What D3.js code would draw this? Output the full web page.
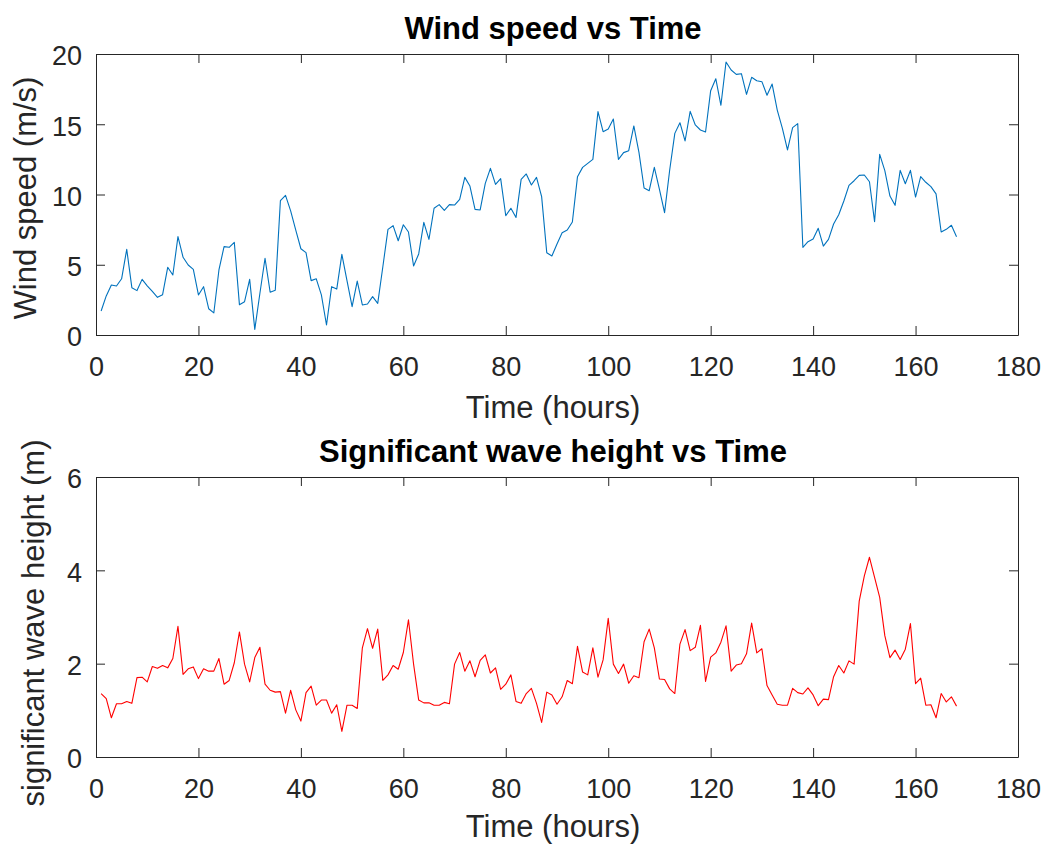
<!DOCTYPE html>
<html>
    <head>
        <meta charset="utf-8">
        <title>Wind speed and wave height</title>
        <style>
            body {
                margin: 0;
                background: #fff;
            }
            svg text {
                font-family: "Liberation Sans", Arial, Helvetica, sans-serif;
            }
            .domain, .tick line {
                stroke: #262626;
                stroke-width: 1px;
            }
        </style>
    </head>

    <body>
        <script type="text/javascript" src="https://cdn.jsdelivr.net/npm/d3@7/dist/d3.min.js" charset="utf-8"></script>

        <script>

            // hourly readings
            var windSpeed = [
                1.71, 2.78, 3.56, 3.49, 4.0, 6.1, 3.37, 3.16, 3.96, 3.5,
                3.1, 2.68, 2.87, 4.82, 4.27, 7.0, 5.53, 4.98, 4.67, 2.85,
                3.44, 1.87, 1.57, 4.63, 6.29, 6.24, 6.6, 2.16, 2.37, 3.96,
                0.4, 2.97, 5.46, 3.04, 3.18, 9.56, 9.94, 8.83, 7.47, 6.14,
                5.86, 3.87, 4.0, 2.85, 0.71, 3.44, 3.27, 5.74, 3.87, 2.02,
                3.84, 2.14, 2.21, 2.73, 2.25, 4.86, 7.52, 7.78, 6.71, 7.85,
                7.33, 4.91, 5.77, 8.02, 6.81, 9.02, 9.28, 8.87, 9.28, 9.25,
                9.66, 11.22, 10.6, 8.94, 8.9, 10.79, 11.86, 10.72, 11.13, 8.49,
                9.02, 8.37, 11.08, 11.46, 10.68, 11.22, 9.85, 5.86, 5.62, 6.48,
                7.28, 7.47, 8.04, 11.27, 11.93, 12.22, 12.5, 15.9, 14.47, 14.66,
                15.37, 12.5, 12.98, 13.12, 14.88, 13.0, 10.46, 10.27, 11.93, 10.37,
                8.71, 11.74, 14.35, 15.11, 13.81, 15.92, 14.95, 14.59, 14.45, 17.39,
                18.24, 16.35, 19.43, 18.86, 18.55, 18.6, 17.13, 18.34, 18.1, 18.03,
                17.06, 17.86, 16.01, 14.71, 13.17, 14.76, 15.04, 6.24, 6.64, 6.83,
                7.59, 6.33, 6.81, 7.9, 8.56, 9.54, 10.65, 10.98, 11.36, 11.39,
                10.91, 8.07, 12.86, 11.7, 9.89, 9.23, 11.72, 10.77, 11.72, 9.82,
                11.27, 10.87, 10.56, 10.04, 7.33, 7.52, 7.81, 7.0
            ];

            var waveHeight = [
                1.36, 1.25, 0.84, 1.14, 1.14, 1.19, 1.15, 1.7, 1.71, 1.61,
                1.94, 1.9, 1.96, 1.91, 2.11, 2.8, 1.77, 1.89, 1.93, 1.68,
                1.89, 1.84, 1.84, 2.11, 1.56, 1.64, 2.02, 2.68, 1.99, 1.61,
                2.13, 2.35, 1.56, 1.43, 1.39, 1.4, 0.94, 1.43, 1.01, 0.77,
                1.38, 1.52, 1.11, 1.22, 1.22, 0.94, 1.12, 0.55, 1.11, 1.11,
                1.04, 2.34, 2.75, 2.33, 2.74, 1.64, 1.76, 1.96, 1.88, 2.24,
                2.94, 1.99, 1.22, 1.16, 1.16, 1.11, 1.11, 1.17, 1.14, 1.99,
                2.24, 1.84, 2.06, 1.72, 2.07, 2.19, 1.8, 1.91, 1.45, 1.56,
                1.76, 1.19, 1.15, 1.36, 1.47, 1.15, 0.74, 1.39, 1.33, 1.13,
                1.29, 1.64, 1.57, 2.37, 1.82, 1.76, 2.34, 1.71, 2.08, 2.97,
                1.99, 1.79, 1.99, 1.58, 1.74, 1.7, 2.47, 2.74, 2.34, 1.67,
                1.66, 1.46, 1.36, 2.42, 2.73, 2.28, 2.35, 2.82, 1.62, 2.14,
                2.23, 2.46, 2.81, 1.84, 1.97, 2.0, 2.21, 2.87, 2.23, 2.32,
                1.53, 1.33, 1.13, 1.11, 1.11, 1.47, 1.38, 1.35, 1.48, 1.33,
                1.1, 1.24, 1.23, 1.72, 1.96, 1.8, 2.06, 1.99, 3.34, 3.88,
                4.28, 3.85, 3.42, 2.6, 2.13, 2.29, 2.09, 2.31, 2.86, 1.57,
                1.69, 1.11, 1.12, 0.84, 1.36, 1.18, 1.29, 1.09
            ];

            var hours = d3.range(1, windSpeed.length + 1);

            var timeTicks = [0, 20, 40, 60, 80, 100, 120, 140, 160, 180];
            var windTicks = [0, 5, 10, 15, 20];
            var waveTicks = [0, 2, 4, 6];

            var width = 1046;
            var height = 845;
            var left = 96, right = 1018;
            var tick = 9;
            var axisColor = "#262626";
            var fmt = d3.format("d");

            var svg = d3.select("body").append("svg")
                    .attr("width", width)
                    .attr("height", height);

            var x = d3.scaleLinear()
                    .domain([0, 180])
                    .range([left, right]);

            function panel(opts)
            {
                var y = d3.scaleLinear()
                        .domain([opts.ticks[0], opts.ticks[opts.ticks.length - 1]])
                        .range([opts.bottom, opts.top]);

                var g = svg.append("g");

                // mirrored tick-only axes (box on)
                g.append("g")
                        .attr("transform", "translate(0," + opts.top + ")")
                        .call(d3.axisTop(x).tickValues(timeTicks).tickSize(-tick).tickSizeOuter(0).tickFormat(""));
                g.append("g")
                        .attr("transform", "translate(" + right + ",0)")
                        .call(d3.axisRight(y).tickValues(opts.ticks).tickSize(-tick).tickSizeOuter(0).tickFormat(""));

                var xa = g.append("g")
                        .attr("transform", "translate(0," + opts.bottom + ")")
                        .call(d3.axisBottom(x).tickValues(timeTicks).tickSize(-tick).tickSizeOuter(0).tickPadding(22).tickFormat(fmt));
                var ya = g.append("g")
                        .attr("transform", "translate(" + left + ",0)")
                        .call(d3.axisLeft(y).tickValues(opts.ticks).tickSize(-tick).tickSizeOuter(0).tickPadding(14).tickFormat(fmt));

                g.selectAll(".tick text")
                        .attr("fill", axisColor)
                        .style("font-size", "27px");
                ya.selectAll(".tick text").attr("dy", "0.4em");

                var line = d3.line()
                        .x(function (d, i) { return x(hours[i]); })
                        .y(function (d) { return y(d); });

                g.append("path")
                        .datum(opts.values)
                        .attr("d", line)
                        .attr("fill", "none")
                        .attr("stroke", opts.color)
                        .attr("stroke-width", 1.1)
                        .attr("stroke-linejoin", "round");

                g.append("text")
                        .attr("x", 553)
                        .attr("y", opts.top - 15)
                        .attr("text-anchor", "middle")
                        .style("font-size", "31px")
                        .style("font-weight", "bold")
                        .attr("fill", "#000")
                        .text(opts.title);

                g.append("text")
                        .attr("x", 553)
                        .attr("y", Math.min(opts.bottom + 83, height - 8))
                        .attr("text-anchor", "middle")
                        .style("font-size", "31px")
                        .attr("fill", axisColor)
                        .text("Time (hours)");

                g.append("text")
                        .attr("transform", "translate(" + opts.labelX + "," + opts.labelY + ") rotate(-90)")
                        .attr("text-anchor", "middle")
                        .style("font-size", "31px")
                        .attr("fill", axisColor)
                        .text(opts.label);
            }

            panel({
                top: 54, bottom: 335,
                ticks: windTicks,
                values: windSpeed,
                color: "#0072BD",
                title: "Wind speed vs Time",
                label: "Wind speed (m/s)",
                labelX: 36, labelY: 198
            });

            panel({
                top: 477, bottom: 757,
                ticks: waveTicks,
                values: waveHeight,
                color: "#FF0000",
                title: "Significant wave height vs Time",
                label: "significant wave height (m)",
                labelX: 44, labelY: 623
            });

        </script>
    </body>
</html>
